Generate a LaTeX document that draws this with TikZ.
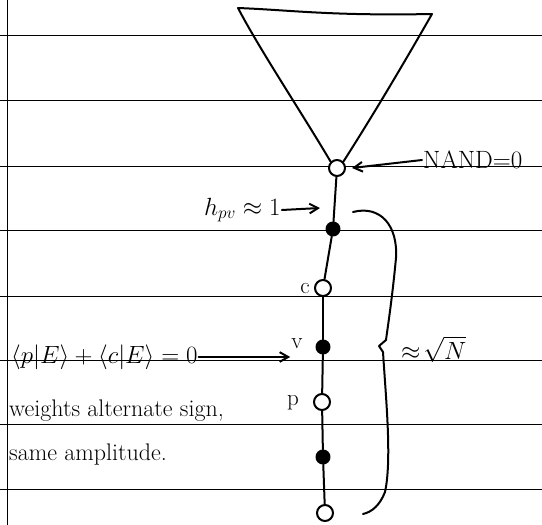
\documentclass[tikz,border=0pt]{standalone}
\usepackage{amsmath,amssymb}
\usepackage{tikz}
\usetikzlibrary{arrows.meta}

\begin{document}
\begin{tikzpicture}[x=1pt,y=-1pt,line cap=round,line join=round,
  >={Straight Barb[length=3mm,width=3.4mm]},
  rule/.style={line width=1pt},
  ink/.style={line width=2pt},
  opn/.style={circle,draw,line width=2pt,minimum size=16pt,inner sep=0pt,fill=white},
  fld/.style={circle,draw,line width=2pt,minimum size=13pt,inner sep=0pt,fill=black},
  lbl/.style={font=\fontsize{23}{26}\selectfont,inner sep=1pt},
  txt/.style={font=\fontsize{24}{28}\selectfont,inner sep=1pt,anchor=west}]
\useasboundingbox (0,0) rectangle (542,525);
% ruled paper
\foreach \y in {35,100,166,230,296,360,424,489}
  \draw[rule] (0,\y) -- (542,\y);
\draw[rule] (7,0) -- (7,525);
% chain
\node[opn] (n0) at (337,168) {};
\node[fld] (n1) at (333,229) {};
\node[opn] (n2) at (323,288) {};
\node[fld] (n3) at (323,347) {};
\node[opn] (n4) at (322,402) {};
\node[fld] (n5) at (323,457) {};
\node[opn] (n6) at (325,513) {};
\foreach \a/\b in {n0/n1,n1/n2,n2/n3,n3/n4,n4/n5,n5/n6}
  \draw[ink] (\a) -- (\b);
% tree on top
\draw[ink] (n0.north west) .. controls (300,110) and (260,50) .. (238,8)
  .. controls (290,10) and (330,16) .. (432,14)
  .. controls (400,70) and (370,120) .. (n0.north east);
% labels
\node[lbl] (clab) at (305,289) {c};
\node[lbl] (vlab) at (297,344) {v};
\node[lbl] (plab) at (293,403) {p};
\node[lbl,anchor=west,font=\fontsize{25}{28}\selectfont] (nand) at (422,160) {NAND=0};
\draw[ink,->] (nand.west) -- ([xshift=6pt]n0.east);
\node[lbl,anchor=west] (hlab) at (203,210) {$h_{pv}\approx 1$};
\coordinate (e01) at (320,208);
\draw[ink,->] (hlab.east) -- (e01);
\node[lbl,anchor=west] (pce) at (10,357) {$\langle p|E\rangle+\langle c|E\rangle=0$};
\draw[ink,->] (pce.east) -- (vlab.west |- pce.east);
\node[txt] (w1) at (8,411) {weights alternate sign,};
\node[txt] (w2) at (8,455) {same amplitude.};
% brace
\draw[ink] (353,212) .. controls (380,205) and (398,225) .. (396,258)
  .. controls (392,300) and (388,325) .. (386,340) -- (379,346) -- (383,352)
  .. controls (386,400) and (392,460) .. (385,492)
  .. controls (380,505) and (372,512) .. (363,514);
\node[lbl,anchor=west] (sqn) at (400,349) {$\approx\!\sqrt{N}$};
\end{tikzpicture}
\end{document}
